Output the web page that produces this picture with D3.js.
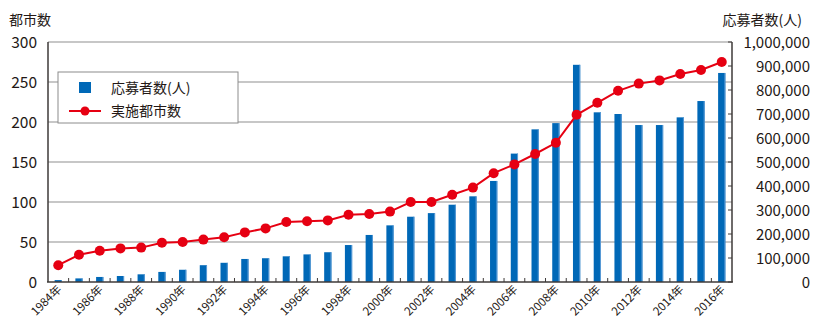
<!DOCTYPE html>
<html>
<head>
<meta charset="utf-8">
<script src="https://cdn.jsdelivr.net/npm/d3@7"></script>
<style>
body{margin:0;background:#fff;}
text{font-family:"Noto Sans CJK JP","Noto Sans",sans-serif;fill:#231815;}
</style>
</head>
<body>
<div id="chart"></div>
<script>
let w=820;
let h=331;

let years=d3.range(1984,2017);
let applicants=[8000,15000,21000,25000,32000,42000,51000,70000,80000,96000,99000,107000,115000,124000,154000,196000,236000,272000,287000,322000,357000,421000,535000,636000,662000,905000,707000,700000,654000,654000,686000,754000,871000];
let cities=[21,34,39,42,43,49,50,53,56,62,67,75,76,77,84,85,88,100,100,109,118,136,147,160,174,209,224,239,248,252,260,265,275];
let leftTicks=[0,50,100,150,200,250,300];
let rightTicks=d3.range(0,1000001,100000);

let blue="#0068b7";
let red="#e60012";

let svg=d3.select("#chart").append("svg")
  .attr("width",w)
  .attr("height",h);

let xScale=d3.scaleBand().domain(years).range([48,732]).paddingInner(0.65).paddingOuter(0.32);
let yLeft=d3.scaleLinear().domain([0,300]).range([282,42]);
let yRight=d3.scaleLinear().domain([0,1000000]).range([282,42]);

// gridlines
svg.selectAll(".grid").data(leftTicks.slice(1)).enter()
  .append("line")
  .attr("x1",48).attr("x2",732)
  .attr("y1",d=>yLeft(d)).attr("y2",d=>yLeft(d))
  .attr("stroke","#b5b5b5")
  .attr("stroke-width",1.5);

// bars
svg.selectAll(".bar").data(applicants).enter()
  .append("rect")
  .attr("x",(d,i)=>xScale(years[i]))
  .attr("y",d=>yRight(d))
  .attr("width",xScale.bandwidth())
  .attr("height",d=>yRight(0)-yRight(d))
  .attr("fill",blue);
svg.selectAll(".barEdge").data(applicants).enter()
  .append("rect")
  .attr("x",(d,i)=>xScale(years[i])+xScale.bandwidth()-1)
  .attr("y",d=>yRight(d))
  .attr("width",1)
  .attr("height",d=>yRight(0)-yRight(d))
  .attr("fill","#5a9bd6");

// line
let center=d=>xScale(d)+xScale.bandwidth()/2;
let line=d3.line().x((d,i)=>center(years[i])).y(d=>yLeft(d));
svg.append("path").datum(cities)
  .attr("d",line)
  .attr("fill","none")
  .attr("stroke",red)
  .attr("stroke-width",2);
svg.selectAll(".dot").data(cities).enter()
  .append("circle")
  .attr("cx",(d,i)=>center(years[i]))
  .attr("cy",d=>yLeft(d))
  .attr("r",5)
  .attr("fill",red);

// axes lines
svg.append("line").attr("x1",48).attr("x2",48).attr("y1",42).attr("y2",282).attr("stroke","#3e3a39").attr("stroke-width",1.5);
svg.append("line").attr("x1",732).attr("x2",732).attr("y1",42).attr("y2",282).attr("stroke","#3e3a39").attr("stroke-width",1.5);
svg.append("line").attr("x1",47).attr("x2",733).attr("y1",282).attr("y2",282).attr("stroke","#3e3a39").attr("stroke-width",1.5);

// x ticks between bands
let step=xScale.step();
svg.selectAll(".xtick").data(years.slice(1)).enter()
  .append("line")
  .attr("x1",d=>center(d)-step/2).attr("x2",d=>center(d)-step/2)
  .attr("y1",282).attr("y2",278)
  .attr("stroke","#3e3a39");

// right ticks
svg.selectAll(".rtick").data(rightTicks).enter()
  .append("line")
  .attr("x1",728).attr("x2",732)
  .attr("y1",d=>yRight(d)).attr("y2",d=>yRight(d))
  .attr("stroke","#3e3a39");

// left labels
svg.selectAll(".ll").data(leftTicks).enter()
  .append("text")
  .text(d=>d)
  .attr("x",37)
  .attr("y",d=>yLeft(d)+5.5)
  .attr("text-anchor","end")
  .style("font-size","15.5px");

// right labels
svg.selectAll(".rl").data(rightTicks).enter()
  .append("text")
  .text(d=>d3.format(",")(d))
  .attr("x",810)
  .attr("y",d=>yRight(d)+5.5)
  .attr("text-anchor","end")
  .style("font-size","15px");

// x labels
svg.selectAll(".xl").data(years.filter(d=>d%2==0)).enter()
  .append("text")
  .text(d=>d+"年")
  .attr("text-anchor","end")
  .attr("transform",d=>"translate("+(center(d)+4)+",290) rotate(-45)")
  .style("font-size","11.5px");

// titles
svg.append("text").text("都市数").attr("x",9).attr("y",25).style("font-size","14px");
svg.append("text").text("応募者数(人)").attr("x",802).attr("y",25).attr("text-anchor","end").style("font-size","14px");

// legend
let legend=svg.append("g");
legend.append("rect").attr("x",58).attr("y",72).attr("width",180).attr("height",51)
  .attr("fill","#fff").attr("stroke","#8c8c8c");
legend.append("rect").attr("x",79).attr("y",82).attr("width",12).attr("height",11).attr("fill",blue);
legend.append("line").attr("x1",69).attr("x2",101).attr("y1",111).attr("y2",111).attr("stroke",red).attr("stroke-width",2);
legend.append("circle").attr("cx",85).attr("cy",111).attr("r",4.5).attr("fill",red);
legend.append("text").text("応募者数(人)").attr("x",111).attr("y",93).style("font-size","14px");
legend.append("text").text("実施都市数").attr("x",111).attr("y",116).style("font-size","14px");
</script>
</body>
</html>
